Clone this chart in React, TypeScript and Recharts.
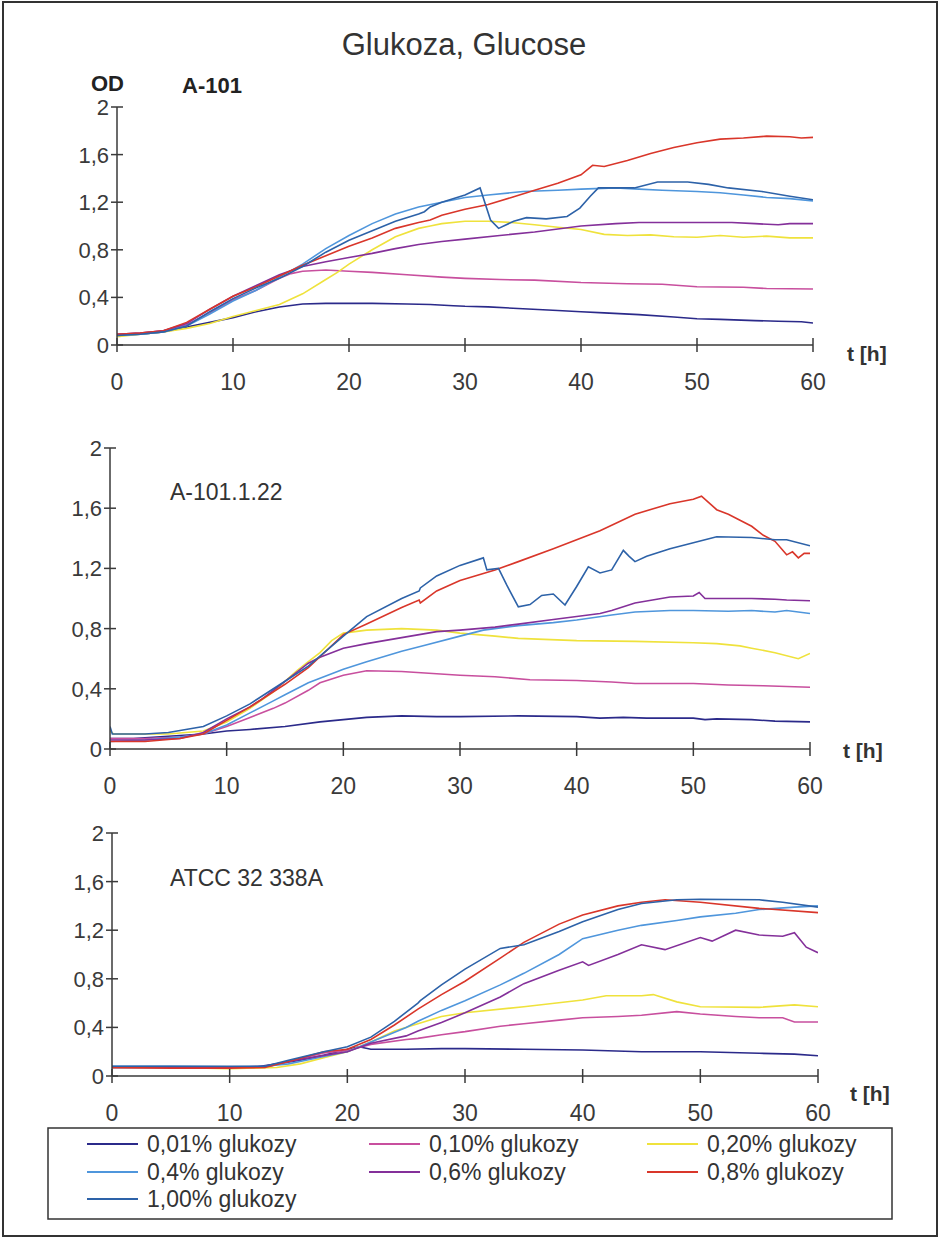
import React from 'react';
import { LineChart, Line, XAxis, YAxis } from 'recharts';

type Pt = [number, number];

const seriesNames = [
  '0,01% glukozy',
  '0,10% glukozy',
  '0,20% glukozy',
  '0,4% glukozy',
  '0,6% glukozy',
  '0,8% glukozy',
  '1,00% glukozy',
];
const seriesColors = ['#2b2a8a', '#c84f9e', '#efe23c', '#4f96dc', '#84309a', '#d9362a', '#2d62a8'];
const xTicks = [0, 10, 20, 30, 40, 50, 60];
const yTicks = [0, 0.4, 0.8, 1.2, 1.6, 2];

// A-101
const a101_001: Pt[] = [[0, 0.08], [2, 0.09], [4, 0.11], [6, 0.15], [8, 0.19], [10, 0.23], [12, 0.28], [14, 0.32], [16, 0.345], [18, 0.35], [20, 0.35], [22, 0.35], [25, 0.345], [27, 0.34], [29, 0.33], [30, 0.325], [32, 0.32], [35, 0.305], [38, 0.29], [40, 0.28], [42, 0.27], [45, 0.255], [48, 0.235], [50, 0.22], [52, 0.215], [55, 0.205], [57, 0.2], [59, 0.195], [60, 0.185]];
const a101_010: Pt[] = [[0, 0.09], [2, 0.1], [4, 0.12], [6, 0.17], [8, 0.27], [10, 0.38], [12, 0.46], [14, 0.56], [15, 0.6], [16, 0.62], [18, 0.63], [20, 0.62], [22, 0.61], [25, 0.59], [28, 0.57], [30, 0.56], [33, 0.55], [36, 0.545], [40, 0.525], [44, 0.515], [47, 0.51], [50, 0.49], [54, 0.485], [56, 0.475], [60, 0.47]];
const a101_020: Pt[] = [[0, 0.07], [2, 0.09], [4, 0.11], [6, 0.14], [8, 0.18], [10, 0.24], [12, 0.29], [14, 0.34], [16, 0.43], [18, 0.55], [19, 0.61], [20, 0.68], [22, 0.8], [24, 0.91], [26, 0.98], [27, 1.0], [28, 1.02], [30, 1.04], [32, 1.04], [34, 1.03], [36, 1.01], [38, 0.99], [40, 0.97], [42, 0.93], [44, 0.92], [46, 0.925], [48, 0.91], [50, 0.905], [52, 0.92], [54, 0.905], [56, 0.915], [58, 0.9], [60, 0.9]];
const a101_04: Pt[] = [[0, 0.08], [2, 0.09], [4, 0.11], [6, 0.16], [8, 0.26], [10, 0.37], [12, 0.46], [14, 0.57], [16, 0.68], [18, 0.81], [20, 0.92], [22, 1.02], [24, 1.1], [26, 1.16], [28, 1.2], [30, 1.24], [32, 1.26], [35, 1.29], [38, 1.3], [40, 1.31], [43, 1.32], [45, 1.31], [47, 1.3], [50, 1.29], [52, 1.28], [54, 1.26], [56, 1.24], [58, 1.23], [60, 1.21]];
const a101_06: Pt[] = [[0, 0.09], [2, 0.1], [4, 0.12], [6, 0.18], [8, 0.3], [10, 0.41], [12, 0.5], [14, 0.59], [16, 0.66], [18, 0.7], [20, 0.735], [22, 0.77], [24, 0.81], [26, 0.845], [28, 0.87], [30, 0.89], [33, 0.92], [36, 0.95], [40, 1.0], [43, 1.02], [45, 1.03], [48, 1.03], [50, 1.03], [53, 1.03], [55, 1.02], [57, 1.01], [58, 1.02], [60, 1.02]];
const a101_08: Pt[] = [[0, 0.09], [2, 0.1], [4, 0.12], [6, 0.19], [8, 0.3], [10, 0.41], [12, 0.49], [14, 0.58], [16, 0.67], [18, 0.75], [20, 0.83], [22, 0.9], [24, 0.98], [26, 1.03], [27, 1.05], [28, 1.09], [30, 1.14], [32, 1.18], [34, 1.24], [36, 1.3], [38, 1.36], [40, 1.43], [41, 1.51], [42, 1.5], [44, 1.55], [46, 1.61], [48, 1.66], [50, 1.7], [52, 1.73], [54, 1.74], [56, 1.755], [58, 1.75], [59, 1.74], [60, 1.745]];
const a101_10: Pt[] = [[0, 0.08], [2, 0.09], [4, 0.11], [6, 0.16], [8, 0.28], [10, 0.39], [12, 0.48], [14, 0.56], [16, 0.66], [18, 0.78], [20, 0.88], [22, 0.96], [24, 1.04], [26, 1.1], [26.5, 1.12], [27, 1.16], [28, 1.2], [30, 1.26], [31.3, 1.32], [32.2, 1.05], [32.9, 0.98], [34.2, 1.04], [35.3, 1.07], [37, 1.06], [38.8, 1.08], [39.9, 1.15], [40.8, 1.25], [41.5, 1.32], [44.6, 1.32], [46.6, 1.37], [49.2, 1.37], [51, 1.35], [52.7, 1.32], [55.6, 1.29], [58, 1.25], [60, 1.22]];

// A-101.1.22
const b122_001: Pt[] = [[0, 0.07], [2, 0.07], [5, 0.085], [8, 0.1], [10, 0.12], [12, 0.13], [15, 0.15], [18, 0.18], [20, 0.195], [22, 0.21], [25, 0.22], [28, 0.215], [30, 0.215], [35, 0.22], [40, 0.215], [42, 0.205], [44, 0.21], [46, 0.205], [50, 0.205], [51, 0.195], [52, 0.2], [55, 0.195], [57, 0.185], [60, 0.18]];
const b122_010: Pt[] = [[0, 0.07], [3, 0.07], [6, 0.08], [8, 0.1], [10, 0.15], [12, 0.21], [14, 0.27], [15, 0.305], [17, 0.39], [18, 0.44], [20, 0.49], [22, 0.52], [25, 0.515], [28, 0.5], [30, 0.49], [33, 0.48], [36, 0.46], [40, 0.455], [43, 0.445], [45, 0.435], [50, 0.435], [53, 0.425], [56, 0.42], [58, 0.415], [60, 0.41]];
const b122_020: Pt[] = [[0, 0.12], [0.3, 0.1], [3, 0.1], [5, 0.1], [8, 0.12], [10, 0.18], [12, 0.27], [14, 0.38], [15, 0.45], [16, 0.52], [17, 0.58], [18, 0.64], [19, 0.72], [20, 0.77], [22, 0.79], [25, 0.8], [28, 0.79], [30, 0.77], [33, 0.75], [35, 0.735], [40, 0.72], [45, 0.715], [50, 0.706], [52, 0.7], [54, 0.685], [55, 0.67], [57, 0.64], [59, 0.6], [60, 0.635]];
const b122_04: Pt[] = [[0, 0.05], [3, 0.06], [6, 0.08], [8, 0.1], [10, 0.16], [12, 0.24], [14, 0.32], [15, 0.36], [17, 0.44], [20, 0.53], [22, 0.58], [25, 0.65], [27, 0.69], [30, 0.75], [32, 0.79], [35, 0.82], [38, 0.84], [40, 0.857], [43, 0.89], [45, 0.91], [48, 0.92], [50, 0.92], [53, 0.915], [55, 0.92], [57, 0.91], [58, 0.92], [60, 0.9]];
const b122_06: Pt[] = [[0, 0.06], [3, 0.06], [6, 0.07], [8, 0.11], [10, 0.2], [12, 0.28], [13, 0.33], [15, 0.45], [17, 0.57], [18, 0.61], [20, 0.67], [22, 0.7], [25, 0.74], [28, 0.78], [30, 0.79], [33, 0.81], [35, 0.83], [38, 0.86], [40, 0.88], [42, 0.9], [43, 0.92], [45, 0.97], [48, 1.01], [50, 1.017], [50.5, 1.04], [51, 1.0], [53, 1.0], [55, 1.0], [57, 0.995], [58, 0.99], [60, 0.985]];
const b122_08: Pt[] = [[0, 0.05], [3, 0.05], [6, 0.07], [8, 0.1], [10, 0.19], [12, 0.28], [14, 0.38], [15, 0.43], [17, 0.54], [20, 0.76], [22, 0.83], [25, 0.94], [26.5, 0.99], [26.6, 0.97], [28, 1.05], [30, 1.12], [33, 1.19], [35, 1.245], [38, 1.33], [40, 1.39], [42, 1.45], [45, 1.56], [48, 1.63], [50, 1.66], [50.7, 1.68], [52, 1.59], [53, 1.56], [54, 1.52], [55, 1.48], [56, 1.42], [57, 1.38], [58, 1.29], [58.5, 1.31], [59, 1.27], [59.5, 1.3], [60, 1.3]];
const b122_10: Pt[] = [[0, 0.15], [0.2, 0.1], [3, 0.1], [5, 0.11], [8, 0.15], [10, 0.22], [12, 0.3], [15, 0.45], [17, 0.55], [20, 0.75], [22, 0.88], [25, 1.0], [26.5, 1.05], [26.6, 1.07], [28, 1.15], [30, 1.22], [32, 1.27], [32.3, 1.19], [33.3, 1.2], [34, 1.09], [35, 0.945], [36, 0.96], [37, 1.02], [38, 1.03], [39, 0.957], [40, 1.08], [41, 1.21], [42, 1.17], [43, 1.19], [44, 1.32], [44.5, 1.28], [45, 1.245], [46, 1.28], [48, 1.33], [50, 1.37], [52, 1.41], [55, 1.405], [57, 1.39], [58, 1.39], [60, 1.35]];

// ATCC 32 338A
const atcc_001: Pt[] = [[0, 0.07], [5, 0.07], [10, 0.07], [12, 0.07], [14, 0.1], [16, 0.13], [18, 0.17], [20, 0.22], [21, 0.24], [22, 0.22], [25, 0.22], [28, 0.225], [30, 0.225], [35, 0.22], [40, 0.214], [45, 0.2], [50, 0.2], [55, 0.187], [58, 0.18], [60, 0.167]];
const atcc_010: Pt[] = [[0, 0.07], [5, 0.07], [10, 0.065], [13, 0.07], [15, 0.12], [18, 0.19], [20, 0.21], [22, 0.26], [25, 0.3], [26, 0.31], [28, 0.34], [30, 0.365], [33, 0.41], [35, 0.43], [38, 0.46], [40, 0.48], [43, 0.49], [45, 0.5], [48, 0.53], [50, 0.51], [53, 0.49], [55, 0.48], [57, 0.48], [58, 0.445], [60, 0.445]];
const atcc_020: Pt[] = [[0, 0.07], [5, 0.07], [10, 0.06], [14, 0.07], [16, 0.1], [18, 0.15], [20, 0.2], [22, 0.28], [24, 0.37], [26, 0.43], [28, 0.49], [30, 0.52], [35, 0.57], [40, 0.625], [42, 0.66], [45, 0.66], [46, 0.67], [48, 0.61], [50, 0.57], [55, 0.565], [58, 0.585], [60, 0.57]];
const atcc_04: Pt[] = [[0, 0.08], [5, 0.08], [10, 0.075], [13, 0.08], [15, 0.1], [18, 0.16], [20, 0.2], [22, 0.28], [25, 0.4], [26, 0.45], [28, 0.54], [30, 0.62], [33, 0.75], [35, 0.845], [38, 1.0], [40, 1.13], [43, 1.2], [45, 1.24], [48, 1.28], [50, 1.31], [53, 1.34], [55, 1.37], [58, 1.39], [60, 1.4]];
const atcc_06: Pt[] = [[0, 0.07], [5, 0.07], [10, 0.07], [13, 0.08], [15, 0.12], [18, 0.17], [20, 0.2], [22, 0.27], [25, 0.33], [26, 0.37], [28, 0.44], [30, 0.52], [33, 0.65], [35, 0.76], [38, 0.87], [40, 0.94], [40.5, 0.91], [43, 1.0], [45, 1.08], [47, 1.04], [50, 1.14], [51, 1.11], [53, 1.2], [55, 1.16], [57, 1.15], [58, 1.18], [59, 1.06], [60, 1.015]];
const atcc_08: Pt[] = [[0, 0.07], [5, 0.065], [10, 0.065], [13, 0.07], [15, 0.12], [18, 0.2], [20, 0.22], [22, 0.3], [24, 0.42], [26, 0.55], [28, 0.67], [30, 0.78], [33, 0.97], [35, 1.1], [38, 1.25], [40, 1.325], [43, 1.4], [45, 1.43], [47, 1.45], [50, 1.43], [55, 1.38], [60, 1.345]];
const atcc_10: Pt[] = [[0, 0.08], [5, 0.08], [10, 0.08], [13, 0.08], [15, 0.13], [18, 0.2], [20, 0.24], [22, 0.32], [24, 0.45], [26, 0.6], [26.2, 0.62], [28, 0.75], [30, 0.88], [33, 1.05], [35, 1.08], [38, 1.19], [40, 1.27], [43, 1.37], [45, 1.42], [48, 1.45], [50, 1.455], [55, 1.45], [57, 1.43], [60, 1.39]];

const FONT = '"Liberation Sans", Arial, sans-serif';
const INK = '#3a3a3a';

const YTick = (props: any) => {
  const { x, y, payload } = props;
  return (
    <g>
      <line x1={x - 6} x2={x + 6} y1={y} y2={y} stroke={INK} strokeWidth={1.5} />
      <text x={x - 8} y={y + 8} textAnchor="end" fontSize={22} fill={INK} fontFamily={FONT}>
        {String(payload.value).replace('.', ',')}
      </text>
    </g>
  );
};

const XTick = (props: any) => {
  const { x, y, payload } = props;
  return (
    <g>
      <line x1={x} x2={x} y1={y - 7} y2={y + 7} stroke={INK} strokeWidth={1.5} />
      <text x={x} y={y + 45} textAnchor="middle" fontSize={23} fill={INK} fontFamily={FONT}>
        {payload.value}
      </text>
    </g>
  );
};

const ABOVE = 30;
const BELOW = 60;

function Panel({ left, right, top, bottom, series }: { left: number; right: number; top: number; bottom: number; series: Pt[][] }) {
  return (
    <div style={{ position: 'absolute', left: 0, top: top - ABOVE }}>
      <LineChart
        width={941}
        height={bottom - top + ABOVE + BELOW}
        margin={{ top: ABOVE, right: 941 - right, bottom: BELOW - 30, left: 0 }}
      >
        <XAxis
          dataKey="t"
          type="number"
          domain={[0, 60]}
          ticks={xTicks}
          height={30}
          tickSize={0}
          tickMargin={0}
          tickLine={false}
          tick={<XTick />}
          axisLine={{ stroke: INK, strokeWidth: 1.5 }}
          allowDataOverflow
        />
        <YAxis
          type="number"
          domain={[0, 2]}
          ticks={yTicks}
          width={left}
          tickSize={0}
          tickMargin={0}
          tickLine={false}
          tick={<YTick />}
          axisLine={{ stroke: INK, strokeWidth: 1.5 }}
          allowDataOverflow
        />
        {series.map((pts, i) => (
          <Line
            key={seriesNames[i]}
            name={seriesNames[i]}
            data={pts.map(([t, od]) => ({ t, od }))}
            dataKey="od"
            type="linear"
            stroke={seriesColors[i]}
            strokeWidth={1.6}
            dot={false}
            activeDot={false}
            isAnimationActive={false}
          />
        ))}
      </LineChart>
    </div>
  );
}

const legendCols = [87, 369, 647];
const legendRows = [1144, 1172, 1199];

export default function App() {
  return (
    <div style={{ position: 'absolute', left: 0, top: 0, width: 941, height: 1239, background: '#fff', fontFamily: FONT }}>
      <svg width={941} height={1239} style={{ position: 'absolute', left: 0, top: 0 }}>
        <rect x={3} y={2} width={934} height={1234} fill="none" stroke="#333" strokeWidth={2} />
        <text x={464} y={55} textAnchor="middle" fontSize={31} fill="#333" fontFamily={FONT}>Glukoza, Glucose</text>
        <text x={91} y={91} fontSize={22} fontWeight="bold" fill="#222" fontFamily={FONT}>OD</text>
        <text x={182} y={93} fontSize={22} fontWeight="bold" fill="#222" fontFamily={FONT}>A-101</text>
        <text x={170} y={500} fontSize={23} fill="#333" fontFamily={FONT}>A-101.1.22</text>
        <text x={170} y={886} fontSize={23} fill="#333" fontFamily={FONT}>ATCC 32 338A</text>
        <text x={847} y={361} fontSize={21} fontWeight="bold" fill="#333" fontFamily={FONT}>t [h]</text>
        <text x={843} y={758} fontSize={21} fontWeight="bold" fill="#333" fontFamily={FONT}>t [h]</text>
        <text x={850} y={1101} fontSize={21} fontWeight="bold" fill="#333" fontFamily={FONT}>t [h]</text>
        <rect x={48} y={1128} width={844} height={91} fill="none" stroke="#333" strokeWidth={1.5} />
        {seriesNames.map((name, i) => {
          const cx = legendCols[i % 3];
          const cy = legendRows[Math.floor(i / 3)];
          return (
            <g key={name}>
              <line x1={cx} x2={cx + 51} y1={cy} y2={cy} stroke={seriesColors[i]} strokeWidth={1.8} />
              <text x={cx + 60} y={cy + 8} fontSize={23} fill="#333" fontFamily={FONT}>{name}</text>
            </g>
          );
        })}
      </svg>
      <Panel left={117} right={813} top={107} bottom={345} series={[a101_001, a101_010, a101_020, a101_04, a101_06, a101_08, a101_10]} />
      <Panel left={110} right={810} top={448} bottom={749} series={[b122_001, b122_010, b122_020, b122_04, b122_06, b122_08, b122_10]} />
      <Panel left={112} right={818} top={833} bottom={1076} series={[atcc_001, atcc_010, atcc_020, atcc_04, atcc_06, atcc_08, atcc_10]} />
    </div>
  );
}
